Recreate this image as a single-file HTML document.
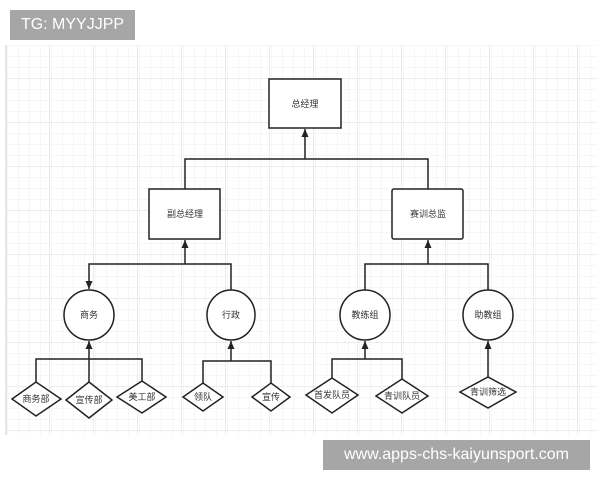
<!DOCTYPE html>
<html><head><meta charset="utf-8"><style>
body{margin:0;width:600px;height:480px;background:#fff;position:relative;overflow:hidden;font-family:"Liberation Sans","Noto Sans CJK SC",sans-serif}
.grid{position:absolute;left:5px;top:45px;width:590px;height:390px;border-left:2px solid #e6e6e6;
background-image:linear-gradient(#ececec 1px,transparent 1px),linear-gradient(90deg,#ececec 1px,transparent 1px),linear-gradient(#f6f6f6 1px,transparent 1px),linear-gradient(90deg,#f6f6f6 1px,transparent 1px);
background-size:44px 44px,44px 44px,11px 11px,11px 11px;background-position:0 33px,-2px 0,0 0,0 0}
.wm{position:absolute;background:#a6a6a6;color:#fff}
</style></head><body>
<div class="grid"></div>
<div class="wm" style="left:10px;top:10px;width:125px;height:30px;font-size:16px;line-height:30px;text-align:center">TG: MYYJJPP</div>
<svg style="position:absolute;left:0;top:0" width="600" height="480" font-family="Liberation Sans,Noto Sans CJK SC,sans-serif" font-size="9" fill="none" stroke="#222" stroke-width="1.5">
<defs><marker id="a" markerWidth="9" markerHeight="7" refX="8" refY="3.5" orient="auto-start-reverse" markerUnits="userSpaceOnUse"><path d="M0,0 L8,3.5 L0,7 Z" fill="#222" stroke="none"/></marker></defs>
<rect x="269" y="79" width="72" height="49" fill="#fff"/>
<rect x="149" y="189" width="71" height="50" fill="#fff"/>
<rect x="392" y="189" width="71" height="50" rx="2" fill="#fff"/>
<path d="M185,189 V159 H428 V189"/><path d="M305,159 V129" marker-end="url(#a)"/>
<path d="M89,289 V264 H231 V290" marker-start="url(#a)"/>
<path d="M185,264 V240" marker-end="url(#a)"/>
<path d="M365,290 V264 H488 V290"/><path d="M428,264 V240" marker-end="url(#a)"/>
<ellipse cx="89" cy="315" rx="25" ry="25" fill="#fff"/>
<ellipse cx="231" cy="315" rx="24" ry="25" fill="#fff"/>
<ellipse cx="365" cy="315" rx="25" ry="25" fill="#fff"/>
<ellipse cx="488" cy="315" rx="25" ry="25" fill="#fff"/>
<path d="M36,382 V359 H142 V381"/><path d="M89,382 V341" marker-end="url(#a)"/>
<path d="M203,383 V361 H271 V383"/><path d="M231,361 V341" marker-end="url(#a)"/>
<path d="M332,378 V359 H402 V379"/><path d="M365,359 V341" marker-end="url(#a)"/>
<path d="M488,377 V341" marker-end="url(#a)"/>
<g fill="#fff">
<path d="M12,399 L36,382 L61,399 L36,416 Z"/>
<path d="M66,400 L89,382 L112,400 L89,418 Z"/>
<path d="M117,397 L142,381 L166,397 L142,413 Z"/>
<path d="M183,397 L203,383 L223,397 L203,411 Z"/>
<path d="M252,397 L271,383 L290,397 L271,411 Z"/>
<path d="M306,395 L332,378 L358,395 L332,413 Z"/>
<path d="M376,396 L402,379 L428,396 L402,413 Z"/>
<path d="M460,392 L488,377 L516,392 L488,408 Z"/>
</g>
<g fill="#333" stroke="none" text-anchor="middle">
<text x="305" y="107">总经理</text><text x="185" y="217">副总经理</text><text x="428" y="217">赛训总监</text>
<text x="89" y="318">商务</text><text x="231" y="318">行政</text><text x="365" y="318">教练组</text><text x="488" y="318">助教组</text>
<text x="36" y="402">商务部</text><text x="89" y="403">宣传部</text><text x="142" y="400">美工部</text>
<text x="203" y="400">领队</text><text x="271" y="400">宣传</text>
<text x="332" y="398">首发队员</text><text x="402" y="399">青训队员</text><text x="488" y="395">青训筛选</text>
</g>
</svg>
<div class="wm" style="left:323px;top:440px;width:267px;height:30px;font-size:16px;line-height:30px;text-align:center">www.apps-chs-kaiyunsport.com</div>
</body></html>
